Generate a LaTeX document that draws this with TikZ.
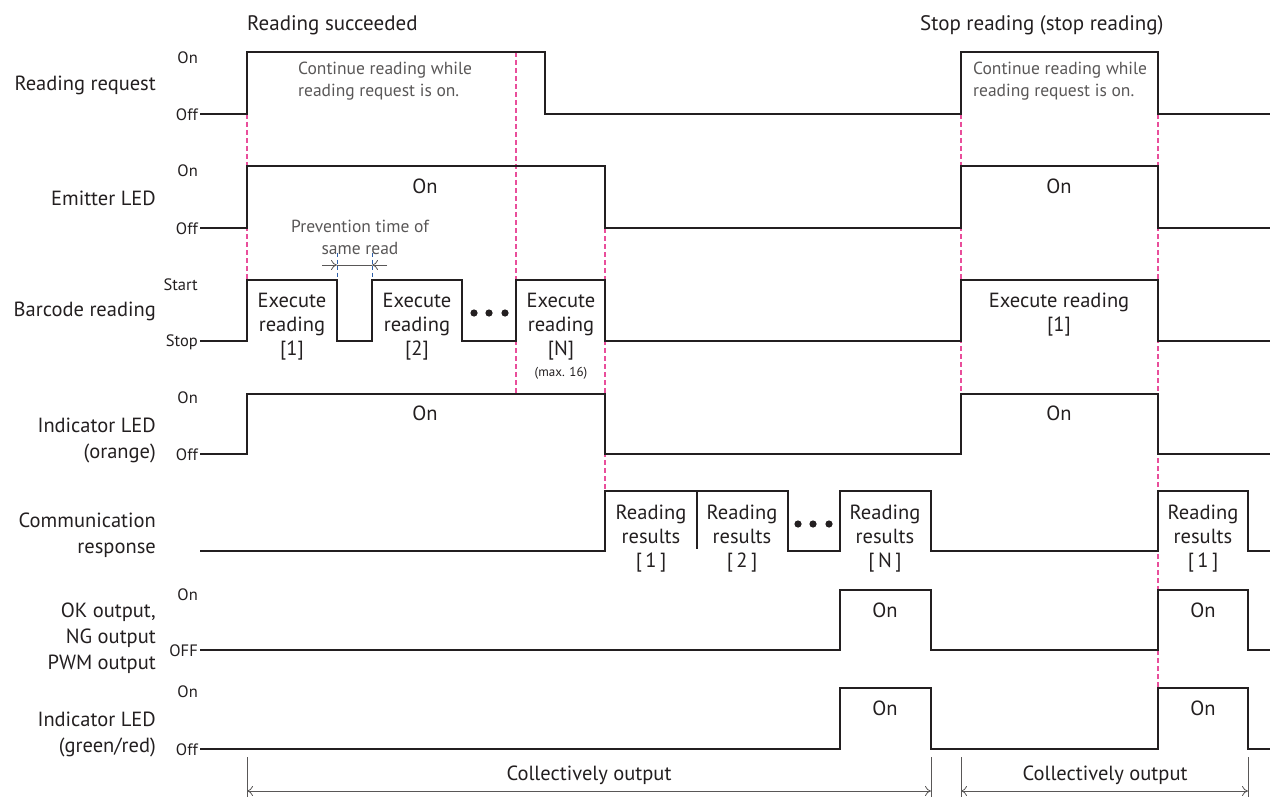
\documentclass[tikz,border=0pt]{standalone}
\usepackage{fontspec}
\setmainfont{PT Sans}
\usetikzlibrary{arrows.meta}
\definecolor{ink}{HTML}{231F20}
\definecolor{mag}{HTML}{E94E9B}
\definecolor{gr}{HTML}{595757}
\definecolor{blu}{HTML}{2E5FA8}
\begin{document}
\begin{tikzpicture}[x=1pt,y=-1pt,
  sig/.style={ink, line width=2.5pt, line join=miter},
  mk/.style={mag, line width=1.1pt, dash pattern=on 5pt off 3pt},
  bk/.style={blu, line width=0.9pt, dash pattern=on 4pt off 2.5pt},
  dim/.style={gr, line width=0.8pt},
  lbl/.style={font=\fontsize{20.5}{26}\selectfont, align=right, anchor=east, text=ink, inner sep=0pt},
  lvl/.style={font=\fontsize{16.5}{18}\selectfont, anchor=east, text=ink, inner sep=0pt},
  inb/.style={font=\fontsize{20.5}{24}\selectfont, align=center, text=ink, inner sep=0pt},
  note/.style={font=\fontsize{17.5}{22}\selectfont, align=left, text=gr, inner sep=0pt},
  ttl/.style={font=\fontsize{21}{24}\selectfont, text=ink, inner sep=0pt},
  onetip/.style={-{To[length=6pt,width=10pt]}},
  arr/.style={{To[length=6pt,width=10pt]}-{To[length=6pt,width=10pt]}}]
\useasboundingbox (0,0) rectangle (1272,797);
% titles
\node[ttl, anchor=west] (t1) at (247,25) {Reading succeeded};
\node[ttl, anchor=west] (t2) at (920,25) {Stop reading (stop reading)};
% row labels
\node[lbl] (l1) at (156,85) {Reading request};
\node[lbl] (l2) at (156,198) {Emitter LED};
\node[lbl] (l3) at (156,311) {Barcode reading};
\node[lbl] (l4) at (156,440) {Indicator LED\\(orange)};
\node[lbl] (l5) at (156,535) {Communication\\response};
\node[lbl] (l6) at (156,638) {OK output,\\NG output\\PWM output};
\node[lbl] (l7) at (156,734) {Indicator LED\\(green/red)};
% level labels
\node[lvl] (v1a) at (198,58) {On};
\node[lvl] (v1b) at (198,115) {Off};
\node[lvl] (v2a) at (198,171) {On};
\node[lvl] (v2b) at (198,229) {Off};
\node[lvl] (v3a) at (198,285) {Start};
\node[lvl] (v3b) at (198,342) {Stop};
\node[lvl] (v4a) at (198,398) {On};
\node[lvl] (v4b) at (198,455) {Off};
\node[lvl] (v6a) at (198,595) {On};
\node[lvl] (v6b) at (198,651) {OFF};
\node[lvl] (v7a) at (198,692) {On};
\node[lvl] (v7b) at (198,750) {Off};
% magenta dashed markers
\draw[mk] (247,114) -- (247,280);
\draw[mk] (516,52) -- (516,394);
\draw[mk] (605,228) -- (605,491);
\draw[mk] (961,114) -- (961,394);
\draw[mk] (1158,114) -- (1158,688);
% blue dashed markers
\draw[bk] (337,253) -- (337,280);
\draw[bk] (372,253) -- (372,280);
% waveforms
\draw[sig] (200,114) -- (247,114) -- (247,52) -- (545,52) -- (545,114) -- (961,114) -- (961,52) -- (1158,52) -- (1158,114) -- (1270,114);
\draw[sig] (200,228) -- (247,228) -- (247,166) -- (605,166) -- (605,228) -- (961,228) -- (961,166) -- (1158,166) -- (1158,228) -- (1270,228);
\draw[sig] (200,341) -- (247,341) -- (247,280) -- (337,280) -- (337,341) -- (372,341) -- (372,280) -- (462,280) -- (462,341) -- (516,341) -- (516,280) -- (605,280) -- (605,341) -- (961,341) -- (961,280) -- (1158,280) -- (1158,341) -- (1270,341);
\draw[sig] (200,454) -- (247,454) -- (247,394) -- (605,394) -- (605,454) -- (961,454) -- (961,394) -- (1158,394) -- (1158,454) -- (1270,454);
\draw[sig] (200,551) -- (605,551) -- (605,491) -- (788,491) -- (788,551) -- (840,551) -- (840,491) -- (931,491) -- (931,551) -- (1158,551) -- (1158,491) -- (1248,491) -- (1248,551) -- (1270,551);
\draw[sig] (697,491) -- (697,549);
\draw[sig] (200,650) -- (840,650) -- (840,590) -- (931,590) -- (931,650) -- (1158,650) -- (1158,590) -- (1248,590) -- (1248,650) -- (1270,650);
\draw[sig] (200,749) -- (840,749) -- (840,688) -- (931,688) -- (931,749) -- (1158,749) -- (1158,688) -- (1248,688) -- (1248,749) -- (1270,749);
% notes
\node[note, anchor=north west] (n1) at (298,62) {Continue reading while\\reading request is on.};
\node[note, anchor=north west] (n2) at (973,62) {Continue reading while\\reading request is on.};
\node[note, align=center] (n3) at (360,237) {Prevention time of\\same read};
\coordinate (p1) at (322,265);
\coordinate (p2) at (337,265);
\coordinate (p3) at (372,265);
\coordinate (p4) at (387,265);
\draw[dim, onetip] (p1) -- (p2);
\draw[dim, onetip] (p4) -- (p3);
\draw[dim] (p2) -- (p3);
% inside texts
\node[inb] (e1) at (425,186) {On};
\node[inb] (e2) at (1059,186) {On};
\node[inb, anchor=north] (x1) at (292,293) {Execute\\reading\\{}[1]};
\node[inb, anchor=north] (x2) at (417,293) {Execute\\reading\\{}[2]};
\node[inb, anchor=north] (x3) at (561,293) {Execute\\reading\\{}[N]};
\node[font=\fontsize{13}{15}\selectfont, text=ink, inner sep=0pt] (x4) at (561,373) {(max. 16)};
\node[inb, anchor=north] (x5) at (1059,293) {Execute reading\\{}[1]};
\fill[ink] (474,313) circle (3.6) (489,313) circle (3.6) (505,313) circle (3.6);
\node[inb] (o1) at (425,413) {On};
\node[inb] (o2) at (1059,413) {On};
\node[inb, anchor=north] (r1) at (651,505) {Reading\\results\\{}[\,1\,]};
\node[inb, anchor=north] (r2) at (742,505) {Reading\\results\\{}[\,2\,]};
\node[inb, anchor=north] (r3) at (885,505) {Reading\\results\\{}[\,N\,]};
\node[inb, anchor=north] (r4) at (1203,505) {Reading\\results\\{}[\,1\,]};
\fill[ink] (798,524) circle (3.6) (813,524) circle (3.6) (829,524) circle (3.6);
\node[inb] (k1) at (885,610) {On};
\node[inb] (k2) at (1203,610) {On};
\node[inb] (g1) at (885,708) {On};
\node[inb] (g2) at (1203,708) {On};
% collectively output
\coordinate (a1) at (247,791);
\coordinate (a2) at (931,791);
\coordinate (a3) at (961,791);
\coordinate (a4) at (1248,791);
\draw[dim] (247,757) -- (247,797);
\draw[dim] (931,757) -- (931,797);
\draw[dim] (961,757) -- (961,797);
\draw[dim] (1248,757) -- (1248,797);
\draw[dim, arr] (a1) -- (a2);
\draw[dim, arr] (a3) -- (a4);
\node[inb] (c1) at (589,775) {Collectively output};
\node[inb] (c2) at (1105,775) {Collectively output};
\end{tikzpicture}
\end{document}
